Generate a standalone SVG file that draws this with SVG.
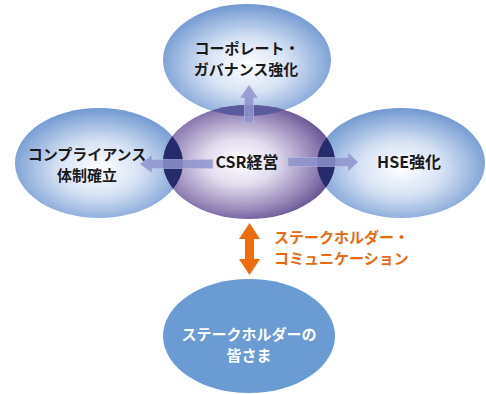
<svg xmlns="http://www.w3.org/2000/svg" width="486" height="394" viewBox="0 0 486 394">
<style>
.t{font-family:"Noto Sans CJK JP","Noto Sans",sans-serif;font-weight:bold;font-size:15px;fill:#1a1a1a;text-anchor:middle}
.w{fill:#ffffff}
.o{fill:#e8690f;text-anchor:start}
.arr{fill:#8e93cc;fill-opacity:0.85;stroke:#c3c6ea;stroke-opacity:0.6;stroke-width:0.8}
</style>
<defs>
<radialGradient id="gb" cx="0.5" cy="0.55" r="0.55">
<stop offset="0" stop-color="#ffffff"/>
<stop offset="0.45" stop-color="#d6e2f4"/>
<stop offset="1" stop-color="#7199d1"/>
</radialGradient>
<radialGradient id="gp" cx="0.45" cy="0.5" r="0.58">
<stop offset="0" stop-color="#ffffff"/>
<stop offset="0.35" stop-color="#e2dcee"/>
<stop offset="0.75" stop-color="#9383b6"/>
<stop offset="1" stop-color="#5a4689"/>
</radialGradient>
<clipPath id="cL"><ellipse cx="99" cy="163" rx="84" ry="55"/></clipPath>
<clipPath id="cR"><ellipse cx="401" cy="163" rx="84" ry="55"/></clipPath>
<clipPath id="cT"><ellipse cx="247" cy="60" rx="84" ry="56"/></clipPath>
</defs>
<g id="node-top"><ellipse cx="247" cy="60" rx="84" ry="56" fill="url(#gb)"/></g>
<g id="node-left"><ellipse cx="99" cy="163" rx="84" ry="55" fill="url(#gb)"/></g>
<g id="node-right"><ellipse cx="401" cy="163" rx="84" ry="55" fill="url(#gb)"/></g>
<g id="node-center">
<ellipse cx="249" cy="162" rx="86" ry="57" fill="url(#gp)"/>
<ellipse cx="249" cy="162" rx="86" ry="57" fill="#262c6b" clip-path="url(#cL)"/>
<ellipse cx="249" cy="162" rx="86" ry="57" fill="#262c6b" clip-path="url(#cR)"/>
<ellipse cx="249" cy="162" rx="86" ry="57" fill="#5a5a9c" clip-path="url(#cT)"/>
</g>
<g id="node-bottom"><ellipse cx="249" cy="336" rx="86" ry="57" fill="#6a9bd2"/></g>
<g id="connectors">
<path class="arr" d="M244.5,123 V98 H240 L249,85 L258,98 H253.5 V123 Z"/>
<path class="arr" d="M213,159.5 H152 V155 L140,164 L152,173 V168.5 H213 Z"/>
<path class="arr" d="M288,157.5 H348 V152.5 L358,162 L348,171.5 V166.5 H288 Z"/>
<path fill="#ee6c0c" d="M249.5,223 L260,239 H254 V259 H260 L249.5,275 L239,259 H245 V239 H239 Z"/>
</g>
<g id="labels">
<text class="t" x="247" y="54">コーポレート・</text>
<text class="t" x="246" y="75">ガバナンス強化</text>
<text class="t" x="87" y="160">コンプライアンス</text>
<text class="t" x="87" y="181">体制確立</text>
<text class="t" x="247" y="168" style="font-size:16px">CSR経営</text>
<text class="t" x="409" y="168" style="font-size:16px">HSE強化</text>
<text class="t o" x="274" y="243">ステークホルダー・</text>
<text class="t o" x="274" y="264">コミュニケーション</text>
<text class="t w" x="249" y="340">ステークホルダーの</text>
<text class="t w" x="249" y="361">皆さま</text>
</g>
</svg>
